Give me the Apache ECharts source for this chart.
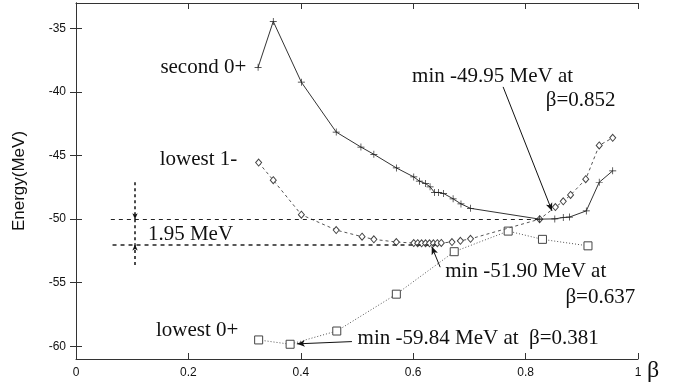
<!DOCTYPE html>
<html>
<head>
<meta charset="utf-8">
<script src="https://cdn.jsdelivr.net/npm/echarts@6/dist/echarts.min.js"></script>
<style>
  html, body { margin: 0; padding: 0; background: #fff; }
  #chart { width: 673px; height: 386px; }
</style>
</head>
<body>
<div id="chart"></div>
<script>
// second 0+ (solid, plus markers)
const betaSecond = [0.324, 0.351, 0.401, 0.463, 0.507, 0.530, 0.570, 0.601, 0.611, 0.622, 0.630, 0.638, 0.645, 0.654, 0.671, 0.685, 0.702, 0.825, 0.852, 0.867, 0.878, 0.908, 0.931, 0.955]
const energySecond = [-38.06, -34.45, -39.23, -43.15, -44.33, -44.9, -45.97, -46.68, -47.01, -47.2, -47.46, -47.9, -47.9, -47.98, -48.4, -48.8, -49.15, -50.0, -49.98, -49.87, -49.84, -49.35, -47.1, -46.2]
// lowest 1- (dashed, diamonds)
const betaOneMinus = [0.325, 0.351, 0.401, 0.463, 0.509, 0.530, 0.570, 0.601, 0.608, 0.615, 0.622, 0.629, 0.636, 0.643, 0.650, 0.669, 0.684, 0.702, 0.825, 0.853, 0.867, 0.880, 0.907, 0.931, 0.955]
const energyOneMinus = [-45.55, -46.94, -49.65, -50.86, -51.38, -51.59, -51.8, -51.88, -51.89, -51.9, -51.9, -51.9, -51.9, -51.89, -51.87, -51.8, -51.7, -51.55, -50.0, -49.05, -48.6, -48.1, -46.86, -44.2, -43.6]
// lowest 0+ (dotted, squares)
const betaLowest = [0.325, 0.381, 0.464, 0.570, 0.673, 0.769, 0.830, 0.911]
const energyLowest = [-59.5, -59.84, -58.8, -55.9, -52.56, -50.94, -51.59, -52.1]

const xTicks = [0, 0.2, 0.4, 0.6, 0.8, 1]
const yTicks = [-35, -40, -45, -50, -55, -60]

// annotation texts, anchored in data coordinates: [text, beta, energy, align]
const notes = [
  ['second 0+', 0.303, -38.06, 'right'],
  ['lowest 1-', 0.287, -45.29, 'right'],
  ['lowest 0+', 0.289, -58.77, 'right'],
  ['1.95 MeV', 0.128, -51.17, 'left'],
  ['min -49.95 MeV at', 0.598, -38.79, 'left'],
  ['\u03b2=0.852', 0.960, -40.67, 'right'],
  ['min -51.90 MeV at', 0.657, -54.12, 'left'],
  ['\u03b2=0.637', 0.995, -56.18, 'right'],
  ['min -59.84 MeV at  \u03b2=0.381', 0.501, -59.42, 'left']
]
// arrows: [fromBeta, fromE, toBeta, toE]
const arrows = [
  [0.760, -39.6, 0.847, -49.35],
  [0.648, -53.78, 0.633, -52.16],
  [0.491, -59.63, 0.393, -59.81]
]
// gap marker (vertical dashed): [beta, top, bottom, upper level, lower level]
const gap = [0.105, -47.1, -53.6, -50.0, -52.0]
// dashed reference levels: [energy, fromBeta, toBeta]
const levels = [
  [-50.0, 0.062, 0.83],
  [-52.0, 0.065, 0.64]
]

const pairs = (xs, ys) => xs.map((x, i) => [x, ys[i]])
const plus = 'path://M0,4.5H10V5.5H0ZM4.5,0H5.5V10H4.5Z'
const sansFont = '"Liberation Sans", Arial, sans-serif'
const serifFont = '"Liberation Serif", "DejaVu Serif", serif'

const frameAxis = {
  axisLine: { show: true, lineStyle: { color: '#333', width: 1 } },
  axisTick: { show: true, inside: true, length: 6, lineStyle: { color: '#333' } },
  splitLine: { show: false }
}

const arrowData = arrows.map(a => [
  { coord: [a[0], a[1]], symbol: 'none' },
  { coord: [a[2], a[3]], symbol: 'arrow', symbolSize: [5, 8] }
])
const levelData = levels.map((l, i) => [
  { coord: [l[1], l[0]], symbol: 'none', lineStyle: { type: [4, 4], width: i ? 1.6 : 1, color: '#222' } },
  { coord: [l[2], l[0]], symbol: 'none' }
])
const gapStyle = { type: [3, 3], width: 1.5, color: '#111' }
const gapData = [
  [{ coord: [gap[0], gap[1]], symbol: 'none', lineStyle: gapStyle },
   { coord: [gap[0], gap[3]], symbol: 'arrow', symbolSize: [4, 6] }],
  [{ coord: [gap[0], gap[3]], symbol: 'none', lineStyle: gapStyle },
   { coord: [gap[0], gap[4]], symbol: 'none' }],
  [{ coord: [gap[0], gap[2]], symbol: 'none', lineStyle: gapStyle },
   { coord: [gap[0], gap[4]], symbol: 'arrow', symbolSize: [4, 6] }]
]

const chart = echarts.init(document.getElementById('chart'))
chart.setOption({
  animation: false,
  backgroundColor: '#fff',
  grid: { left: 76, right: 35, top: 3, bottom: 27, containLabel: false, outerBoundsMode: 'none' },
  xAxis: [
    Object.assign({
      type: 'value', min: 0, max: 1, interval: 0.2, position: 'bottom',
      axisLabel: { color: '#111', fontFamily: sansFont, fontSize: 12, margin: 8, formatter: v => String(+v.toFixed(1)) }
    }, frameAxis),
    Object.assign({
      type: 'value', min: 0, max: 1, interval: 0.2, position: 'top', axisLabel: { show: false }
    }, frameAxis)
  ],
  yAxis: [
    Object.assign({
      type: 'value', min: -61, max: -33, position: 'left',
      name: 'Energy(MeV)', nameLocation: 'middle', nameGap: 48, nameRotate: 90,
      nameTextStyle: { color: '#111', fontFamily: sansFont, fontSize: 17 },
      axisLabel: {
        color: '#111', fontFamily: sansFont, fontSize: 12, margin: 10,
        formatter: v => (yTicks.indexOf(v) >= 0 ? String(v) : '')
      },
      interval: 1
    }, frameAxis, {
      axisTick: { show: true, inside: true, length: 6, lineStyle: { color: '#333' },
        customValues: yTicks }
    }),
    Object.assign({
      type: 'value', min: -61, max: -33, position: 'right', axisLabel: { show: false }
    }, frameAxis, {
      axisTick: { show: true, inside: true, length: 6, lineStyle: { color: '#333' },
        customValues: yTicks }
    })
  ],
  series: [
    {
      name: 'lowest 0+', type: 'line', data: pairs(betaLowest, energyLowest),
      symbol: 'rect', symbolSize: 8, showAllSymbol: true,
      lineStyle: { color: '#555', width: 1, type: [1, 2] },
      itemStyle: { color: '#fff', borderColor: '#444', borderWidth: 1 },
      emphasis: { disabled: true }, z: 3
    },
    {
      name: 'lowest 1-', type: 'line', data: pairs(betaOneMinus, energyOneMinus),
      symbol: 'diamond', symbolSize: [6, 7], showAllSymbol: true,
      lineStyle: { color: '#555', width: 1, type: [3, 3] },
      itemStyle: { color: '#fff', borderColor: '#444', borderWidth: 1 },
      emphasis: { disabled: true }, z: 4
    },
    {
      name: 'second 0+', type: 'line', data: pairs(betaSecond, energySecond),
      symbol: plus, symbolSize: 7, showAllSymbol: true,
      lineStyle: { color: '#333', width: 1 },
      itemStyle: { color: '#222' },
      emphasis: { disabled: true }, z: 5
    },
    {
      name: 'notes', type: 'line', data: [], silent: true,
      markLine: {
        silent: true, animation: false, symbol: ['none', 'none'],
        label: { show: false },
        lineStyle: { color: '#111', width: 1, type: 'solid' },
        emphasis: { disabled: true },
        data: arrowData.concat(levelData, gapData)
      }
    }
  ]
})

const graphics = notes.map(n => {
  const p = chart.convertToPixel({ gridIndex: 0 }, [n[1], n[2]])
  return {
    type: 'text', silent: true,
    style: {
      x: p[0], y: p[1], text: n[0], textAlign: n[3], textVerticalAlign: 'middle',
      fill: '#111', font: '21px ' + serifFont
    }
  }
})
const pEnd = chart.convertToPixel({ gridIndex: 0 }, [1, -61])
graphics.push({
  type: 'text', silent: true,
  style: { x: pEnd[0] + 9, y: pEnd[1] + 12, text: '\u03b2', textAlign: 'left', textVerticalAlign: 'middle',
    fill: '#111', font: '24px ' + serifFont }
})
chart.setOption({ graphic: graphics })
</script>
</body>
</html>
